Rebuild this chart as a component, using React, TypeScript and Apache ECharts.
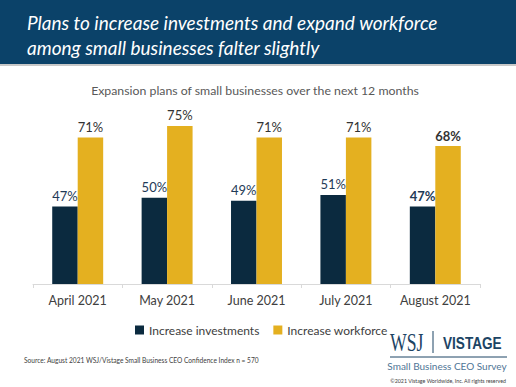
import React, { useEffect, useRef } from "react";
import * as echarts from "echarts";

const categories = ["April 2021", "May 2021", "June 2021", "July 2021", "August 2021"];
const investments = [47, 50, 49, 51, 47];
const workforce = [71, 75, 71, 71, 68];
const seriesNames = ["Increase investments", "Increase workforce"];
const titleLines = [
  "Plans to increase investments and expand workforce",
  "among small businesses falter slightly",
];
const subtitle = "Expansion plans of small businesses over the next 12 months";
const sourceText = "Source: August 2021 WSJ/Vistage Small Business CEO Confidence Index n = 570";
const copyright = "©2021 Vistage Worldwide, Inc. All rights reserved";

const NAVY = "#0b2a3f";
const GOLD = "#e4b020";
const LABEL = "#1f3b57";
const FONT = "Lato, 'Open Sans', sans-serif";

export default function App() {
  const ref = useRef<HTMLDivElement>(null);
  useEffect(() => {
    if (!ref.current) return;
    const chart = echarts.init(ref.current, null, { renderer: "svg" });
    const lastIdx = categories.length - 1;
    const mkData = (arr: number[]) =>
      arr.map((v, i) =>
        i === lastIdx ? { value: v, label: { fontWeight: "bold" as const } } : v
      );
    chart.setOption({
      animation: false,
      backgroundColor: "#ffffff",
      textStyle: { fontFamily: FONT },
      grid: { left: 33, right: 36, top: 111.5, bottom: 103 },
      xAxis: {
        type: "category",
        data: categories,
        axisLine: { lineStyle: { color: "#d9d9d9", width: 1 } },
        axisTick: { show: true, length: 4, lineStyle: { color: "#d9d9d9" } },
        axisLabel: {
          color: "#404040",
          fontSize: 12.5,
          margin: 10,
          interval: 0,
          fontFamily: FONT,
        },
      },
      yAxis: { type: "value", min: 20, max: 80, show: false, splitLine: { show: false } },
      legend: {
        data: seriesNames,
        left: 130,
        top: 319,
        itemWidth: 9,
        itemHeight: 9,
        itemGap: 14,
        icon: "rect",
        textStyle: { color: "#404040", fontSize: 12, fontFamily: FONT },
      },
      series: [
        {
          name: seriesNames[0],
          type: "bar",
          data: mkData(investments),
          barGap: "0%",
          barCategoryGap: "43%",
          itemStyle: { color: NAVY },
          label: {
            show: true,
            position: "top",
            distance: 4,
            formatter: "{c}%",
            color: LABEL,
            fontSize: 13,
            fontFamily: FONT,
          },
        },
        {
          name: seriesNames[1],
          type: "bar",
          data: mkData(workforce),
          itemStyle: { color: GOLD },
          label: {
            show: true,
            position: "top",
            distance: 4,
            formatter: "{c}%",
            color: "#333333",
            fontSize: 13,
            fontFamily: FONT,
          },
        },
      ],
      graphic: [
        { type: "rect", shape: { x: 0, y: 0, width: 516, height: 64 }, style: { fill: "#0b4269" } },
        { type: "rect", shape: { x: 0, y: 64, width: 516, height: 2 }, style: { fill: "#c8c8c8" } },
        {
          type: "text",
          x: 27,
          y: 22,
          style: {
            text: titleLines[0],
            fill: "#ffffff",
            font: `italic 19px ${FONT}`,
            verticalAlign: "middle",
          },
        },
        {
          type: "text",
          x: 27,
          y: 47,
          style: {
            text: titleLines[1],
            fill: "#ffffff",
            font: `italic 19px ${FONT}`,
            verticalAlign: "middle",
          },
        },
        {
          type: "text",
          x: 255,
          y: 90,
          style: {
            text: subtitle,
            fill: "#595959",
            font: `12.3px ${FONT}`,
            align: "center",
            verticalAlign: "middle",
          },
        },
        {
          type: "text",
          x: 24,
          y: 360,
          style: {
            text: sourceText,
            fill: "#404040",
            font: `6.6px ${FONT}`,
            verticalAlign: "middle",
          },
        },
        {
          type: "text",
          x: 390,
          y: 342,
          scaleX: 0.68,
          style: {
            text: "WSJ",
            fill: "#1c4464",
            font: `26px 'Liberation Serif', serif`,
            verticalAlign: "middle",
          },
        },
        {
          type: "line",
          shape: { x1: 433, y1: 331, x2: 433, y2: 353 },
          style: { stroke: "#1c4464", lineWidth: 1 },
        },
        {
          type: "text",
          x: 443,
          y: 343,
          scaleX: 0.8,
          style: {
            text: "VISTAGE",
            fill: "#1c4464",
            font: `bold 17px 'Liberation Sans', sans-serif`,
            verticalAlign: "middle",
          },
        },
        {
          type: "line",
          shape: { x1: 390, y1: 357, x2: 507, y2: 357 },
          style: { stroke: "#1c4464", lineWidth: 1 },
        },
        {
          type: "text",
          x: 447,
          y: 365.5,
          style: {
            text: "Small Business CEO Survey",
            fill: "#4f7596",
            font: `10px ${FONT}`,
            align: "center",
            verticalAlign: "middle",
          },
        },
        {
          type: "text",
          x: 506,
          y: 381,
          style: {
            text: copyright,
            fill: "#404040",
            font: `5.3px ${FONT}`,
            align: "right",
            verticalAlign: "middle",
          },
        },
      ],
    });
    return () => chart.dispose();
  }, []);
  return (
    <div
      ref={ref}
      style={{ position: "fixed", left: 0, top: 0, width: 516, height: 387 }}
    />
  );
}
